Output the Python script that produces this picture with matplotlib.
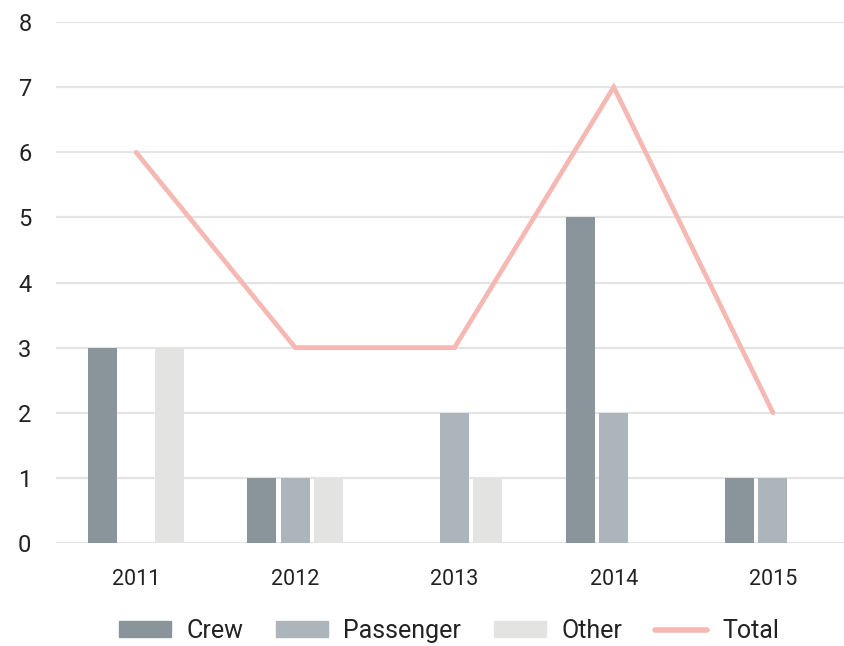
import matplotlib
matplotlib.use("Agg")
import matplotlib.pyplot as plt
import numpy as np
from matplotlib.patches import Patch
from matplotlib.lines import Line2D

years = ["2011", "2012", "2013", "2014", "2015"]
crew = [3, 1, 0, 5, 1]
passenger = [0, 1, 2, 2, 1]
other = [3, 1, 1, 0, 0]
total = [6, 3, 3, 7, 2]
yticks = [0, 1, 2, 3, 4, 5, 6, 7, 8]

c_crew = "#8a959b"
c_pass = "#adb5bc"
c_other = "#e3e3e1"
c_total = "#f5b8b3"

plt.rcParams['font.family'] = ['Roboto', 'DejaVu Sans']

fig = plt.figure(figsize=(8.45, 6.46), dpi=100)
ax = fig.add_axes([56.4 / 845, 103 / 646, (852.6 - 56.4) / 845, 521 / 646])

x = np.arange(len(years))
w = 0.182
off = 0.21
ax.bar(x - off, crew, w, color=c_crew, zorder=2)
ax.bar(x, passenger, w, color=c_pass, zorder=2)
ax.bar(x + off, other, w, color=c_other, zorder=2)
ax.plot(x, total, color=c_total, lw=3.4, zorder=3, solid_capstyle='round', solid_joinstyle='miter')

ax.set_xlim(-0.5, len(years) - 0.5)
ax.set_ylim(0, 8)
ax.set_yticks(yticks)
ax.set_yticklabels([str(v) for v in yticks], fontsize=17, color="#222222")
ax.set_xticks(x)
ax.set_xticklabels(years, fontsize=15.5, color="#222222")
ax.tick_params(axis='y', length=0, pad=18)
ax.tick_params(axis='x', length=0, pad=19)
for s in ax.spines.values():
    s.set_visible(False)
ax.grid(axis='y', color="#e4e4e4", lw=1.6, zorder=0)
ax.set_axisbelow(True)

handles = [Patch(color=c_crew), Patch(color=c_pass), Patch(color=c_other),
           Line2D([0], [0], color=c_total, lw=4, solid_capstyle='round')]
labels = ["Crew", "Passenger", "Other", "Total"]
fig.legend(handles, labels, loc='center', bbox_to_anchor=(449 / 845, 1 - 631 / 646),
           ncol=4, frameon=False, fontsize=18, handlelength=2.1, handleheight=0.6,
           columnspacing=1.3, handletextpad=0.6, labelcolor="#222222")

fig.savefig("out.png", dpi=100)
